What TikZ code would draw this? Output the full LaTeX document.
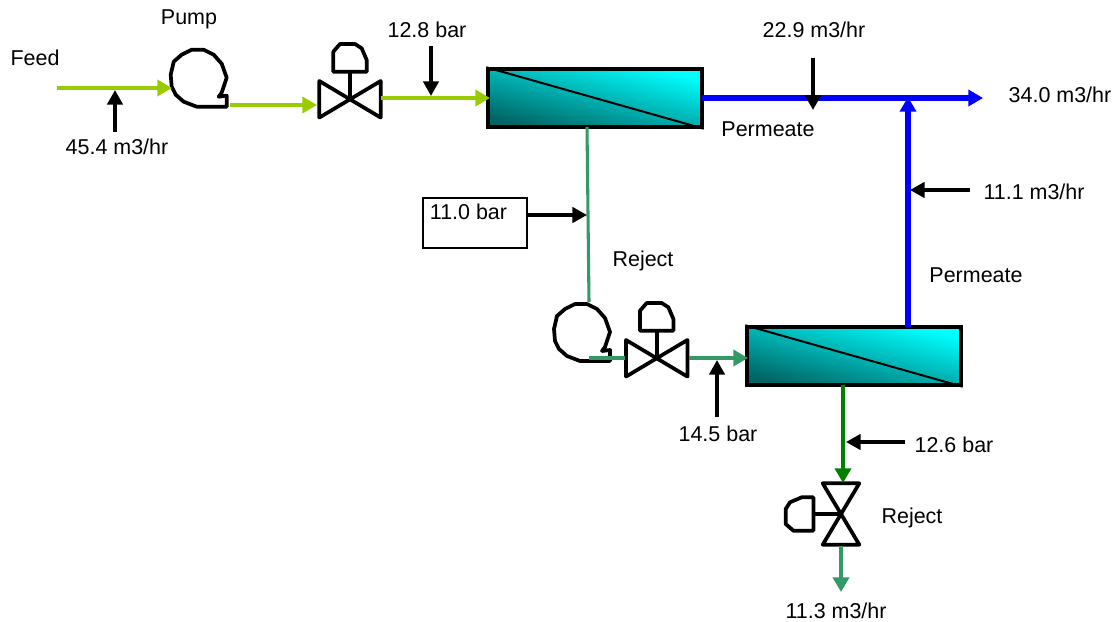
\documentclass[tikz,border=0pt]{standalone}
\usepackage{fontspec}
\setmainfont{Liberation Sans}
\usetikzlibrary{arrows.meta}
\definecolor{feedgreen}{RGB}{153,204,0}
\definecolor{seagreen}{RGB}{51,153,102}
\definecolor{darkgreen}{RGB}{0,128,0}
\definecolor{flowblue}{RGB}{0,0,255}
\definecolor{tealdark}{RGB}{0,100,100}
\tikzset{
  lbl/.style={inner sep=0pt,font=\fontsize{16.1pt}{19pt}\selectfont,yshift=-.75pt},
  symbol/.style={draw=black,line width=2.8pt,line join=round,fill=none},
  flow/.style={line width=3.5pt,-{Triangle[length=11pt,width=12pt]}},
  feedflow/.style={flow,draw=feedgreen},
  seaflow/.style={flow,draw=seagreen},
  blueflow/.style={flow,line width=4pt,draw=flowblue},
  greenflow/.style={flow,draw=darkgreen},
  probe/.style={line width=2.6pt,draw=black,-{Triangle[length=11pt,width=11.5pt]}},
  membrane/.style={rectangle,draw=black,line width=2.6pt,minimum width=160.5pt,minimum height=43.5pt,inner sep=0pt,
    shade,shading=axis,top color=cyan,bottom color=tealdark,shading angle=-14},
  pumpshape/.pic={
    \draw[symbol] (0,0) -- (-30,0) -- (-43,-5) -- (-51,-12) -- (-55,-20) -- (-56,-32) -- (-53,-45) -- (-45,-52) -- (-35,-57) -- (-23,-57) -- (-13,-52) -- (-5,-43) -- (0,-29) -- (-5,-14) -- (-8,-10) -- (0,-11) -- cycle;
  },
  valveshape/.pic={
    \draw[symbol] (0,0) -- (-30.7,-18.3) -- (-30.7,18.3) -- cycle;
    \draw[symbol] (0,0) -- (30.7,-18.3) -- (30.7,18.3) -- cycle;
    \draw[symbol] (0,0) -- (0,-27.6);
    \draw[symbol] (-16.7,-27.6) -- (16.7,-27.6) -- (16.7,-39.3) -- (11.7,-51) -- (5,-55.3) -- (-10,-55.3) -- (-16.7,-47.6) -- cycle;
  }
}
\begin{document}
\begin{tikzpicture}[x=.75pt,y=-.75pt]
\useasboundingbox (0,0) rectangle (1120,621);

% membranes
\node[membrane] (m1) at (595,98) {};
\node[membrane] (m2) at (854,356) {};
\draw[line width=1.5pt] (m1.north west) -- (m1.south east);
\draw[line width=1.5pt] (m2.north west) -- (m2.south east);

% equipment
\pic at (226.7,106.7) {pumpshape};
\pic at (610,361) {pumpshape};
\pic at (350,99.3) {valveshape};
\pic at (656.7,358.3) {valveshape};
\pic[rotate=90] at (841,514) {valveshape};

% anchor points
\coordinate (feedin) at (57,88);
\coordinate (p1in) at (172,88);
\coordinate (p1out) at (230,105);
\coordinate (v1in) at (317,105);
\coordinate (v1out) at (381,98);
\coordinate (m1in) at (490,98);
\coordinate (m1out) at (702,98);
\coordinate (prod) at (983,98);
\coordinate (m2top) at (908,327);
\coordinate (join) at (908,97);
\coordinate (m1rej) at (587,127);
\coordinate (p2in) at (589,302);
\coordinate (p2out) at (589,358);
\coordinate (v2in) at (625,358);
\coordinate (v2out) at (689,358);
\coordinate (m2in) at (748,358);
\coordinate (m2rej) at (843,385);
\coordinate (v3in) at (843,483);
\coordinate (v3out) at (841,546);
\coordinate (rejout) at (841,592);

% flows
\draw[feedflow] (feedin) -- (p1in);
\draw[feedflow] (p1out) -- (v1in);
\draw[feedflow] (v1out) -- (m1in);
\draw[blueflow] (m1out) -- (prod);
\draw[blueflow] (m2top) -- (join);
\draw[seagreen,line width=2.3pt] (m1rej) -- (p2in);
\draw[seagreen,line width=3.5pt] (p2out) -- (v2in);
\draw[seaflow] (v2out) -- (m2in);
\draw[greenflow] (m2rej) -- (v3in);
\draw[seaflow] (v3out) -- (rejout);

% labels
\node[lbl] (tfeed) at (35,57) {Feed};
\node[lbl] (tpump) at (189,18) {Pump};
\node[lbl] (tfq) at (117,146) {45.4 m3/hr};
\node[lbl] (tp1) at (427,29) {12.8 bar};
\node[lbl] (tq1) at (814,29) {22.9 m3/hr};
\node[lbl] (tperm1) at (768,128) {Permeate};
\node[lbl] (tprod) at (1060,94) {34.0 m3/hr};
\node[lbl] (tq2) at (1034,191) {11.1 m3/hr};
\node[lbl] (tperm2) at (976,274) {Permeate};
\node[lbl] (trej1) at (643,260) {Reject};
\node[lbl] (tp3) at (718,433) {14.5 bar};
\node[lbl] (tp4) at (954,444) {12.6 bar};
\node[lbl] (trej2) at (912,517) {Reject};
\node[lbl] (tq3) at (836,610) {11.3 m3/hr};
\node[draw=black,line width=.8pt,minimum width=78pt,minimum height=37.5pt,inner sep=0pt] (pbox) at (475,223) {};
\node[lbl] (tp2) at (468.5,211) {11.0 bar};

% probe arrows
\coordinate (a1s) at (115,132); \coordinate (a1e) at (115,90);
\coordinate (a2s) at (431,46);  \coordinate (a2e) at (431,96);
\coordinate (a3s) at (813,58);  \coordinate (a3e) at (813,110);
\coordinate (a4s) at (970,190); \coordinate (a4e) at (910,190);
\coordinate (a5e) at (587,215);
\coordinate (a6s) at (717,417); \coordinate (a6e) at (717,360);
\coordinate (a7s) at (905,442); \coordinate (a7e) at (846,442);
\draw[probe] (a1s) -- (a1e);
\draw[probe] (a2s) -- (a2e);
\draw[probe] (a3s) -- (a3e);
\draw[probe] (a4s) -- (a4e);
\draw[probe] (pbox.east |- a5e) -- (a5e);
\draw[probe] (a6s) -- (a6e);
\draw[probe] (a7s) -- (a7e);
\end{tikzpicture}
\end{document}
